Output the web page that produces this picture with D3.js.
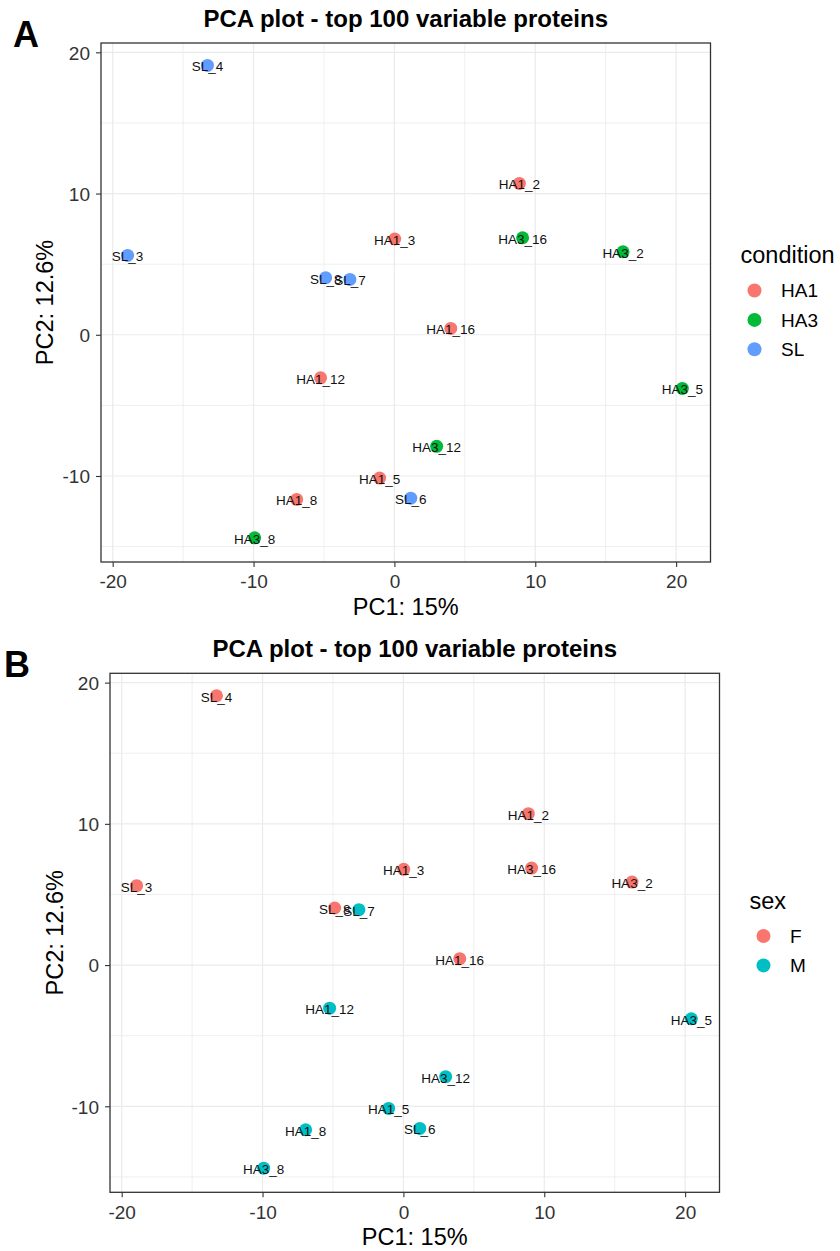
<!DOCTYPE html>
<html>
<head>
<meta charset="utf-8">
<script src="https://cdn.jsdelivr.net/npm/d3@7"></script>
<style>
  body { margin: 0; background: #fff; }
  svg { display: block; font-family: 'Liberation Sans', Arial, sans-serif; }
</style>
</head>
<body>
<svg id="chart" width="840" height="1251"></svg>
<script>
// PCA scores
var samples = ['SL_4', 'SL_3', 'SL_8', 'SL_7', 'HA1_3', 'HA1_2', 'HA3_16', 'HA3_2', 'HA1_16',
  'HA3_5', 'HA3_12', 'SL_6', 'HA1_12', 'HA1_5', 'HA1_8', 'HA3_8'];
var pc1 = [-13.27, -18.94, -4.88, -3.16, 0.02, 8.87, 9.1, 16.23, 4.0,
  20.44, 3.0, 1.16, -5.24, -1.05, -6.94, -9.92];
var pc2 = [19.07, 5.62, 4.04, 3.92, 6.78, 10.72, 6.87, 5.88, 0.45,
  -3.8, -7.9, -11.57, -3.05, -10.15, -11.66, -14.38];
var condition = ['SL', 'SL', 'SL', 'SL', 'HA1', 'HA1', 'HA3', 'HA3', 'HA1',
  'HA3', 'HA3', 'SL', 'HA1', 'HA1', 'HA1', 'HA3'];
var sex = ['F', 'F', 'F', 'M', 'F', 'F', 'F', 'F', 'F',
  'M', 'M', 'M', 'M', 'M', 'M', 'M'];

var conditionLevels = ['HA1', 'HA3', 'SL'];
var sexLevels = ['F', 'M'];
var xTicks = [-20, -10, 0, 10, 20];
var yTicks = [-10, 0, 10, 20];
var xMinor = [-15, -5, 5, 15];
var yMinor = [-15, -5, 5, 15];

var title = 'PCA plot - top 100 variable proteins';
var xLabel = 'PC1: 15%';
var yLabel = 'PC2: 12.6%';

var svg = d3.select('#chart');

var pw = 609.5;
var ph = 519;

var x = d3.scaleLinear().domain([-20.83, 22.44]).range([0, pw]);
var y = d3.scaleLinear().domain([-16.09, 20.66]).range([ph, 0]);

var data = samples.map(function(s, i) {
  return { name: s, pc1: pc1[i], pc2: pc2[i], condition: condition[i], sex: sex[i] };
});

// ggplot prints a plain hyphen, not the unicode minus
var fmt = function(d) { return String(d); };

function drawPanel(opt) {
  var g = svg.append('g').attr('transform', 'translate(' + opt.left + ',' + opt.top + ')');

  // panel letter
  svg.append('text')
    .attr('x', opt.letterX).attr('y', opt.letterY)
    .style('font-size', '36px').style('font-weight', 'bold')
    .text(opt.letter);

  // grid
  g.selectAll('.vmin').data(xMinor).enter().append('line')
    .attr('x1', x).attr('x2', x).attr('y1', 0).attr('y2', ph)
    .style('stroke', '#ebebeb').style('stroke-width', 0.8);
  g.selectAll('.hmin').data(yMinor).enter().append('line')
    .attr('y1', y).attr('y2', y).attr('x1', 0).attr('x2', pw)
    .style('stroke', '#ebebeb').style('stroke-width', 0.8);
  g.selectAll('.vmaj').data(xTicks).enter().append('line')
    .attr('x1', x).attr('x2', x).attr('y1', 0).attr('y2', ph)
    .style('stroke', '#ebebeb').style('stroke-width', 1.2);
  g.selectAll('.hmaj').data(yTicks).enter().append('line')
    .attr('y1', y).attr('y2', y).attr('x1', 0).attr('x2', pw)
    .style('stroke', '#ebebeb').style('stroke-width', 1.2);

  // axes
  var xa = g.append('g').attr('transform', 'translate(0,' + ph + ')')
    .call(d3.axisBottom(x).tickValues(xTicks).tickFormat(fmt).tickSize(5).tickPadding(8));
  var ya = g.append('g')
    .call(d3.axisLeft(y).tickValues(yTicks).tickFormat(fmt).tickSize(5).tickPadding(6));
  [xa, ya].forEach(function(a) {
    a.select('.domain').remove();
    a.selectAll('line').style('stroke', '#333').style('stroke-width', 1.1);
    a.selectAll('text').style('font-size', '19px').style('fill', '#333')
      .style('font-family', "'Liberation Sans', Arial, sans-serif");
  });
  ya.selectAll('text').attr('dy', '0.36em');

  // points then labels
  g.selectAll('.pt').data(data).enter().append('circle')
    .attr('cx', function(d) { return x(d.pc1); })
    .attr('cy', function(d) { return y(d.pc2); })
    .attr('r', 6.5)
    .style('fill', function(d) { return opt.colour(d[opt.field]); });

  g.selectAll('.lab').data(data).enter().append('text')
    .attr('x', function(d) { return x(d.pc1); })
    .attr('y', function(d) { return y(d.pc2) + 6; })
    .attr('text-anchor', 'middle')
    .style('font-size', '13.5px')
    .style('fill', '#111')
    .text(function(d) { return d.name; });

  // border
  g.append('rect').attr('width', pw).attr('height', ph)
    .style('fill', 'none').style('stroke', '#333').style('stroke-width', 1.3);

  // titles
  g.append('text').attr('x', pw / 2).attr('y', -16)
    .attr('text-anchor', 'middle')
    .style('font-size', '24px').style('font-weight', 'bold')
    .text(title);
  g.append('text').attr('x', pw / 2).attr('y', ph + 53)
    .attr('text-anchor', 'middle')
    .style('font-size', '23.5px')
    .text(xLabel);
  g.append('text')
    .attr('transform', 'translate(' + opt.yTitleX + ',' + ph / 2 + ') rotate(-90)')
    .attr('text-anchor', 'middle')
    .style('font-size', '23.5px')
    .text(yLabel);

  // legend
  var lg = svg.append('g').attr('transform', 'translate(' + opt.legX + ',' + opt.legY + ')');
  lg.append('text').attr('x', 0).attr('y', 0)
    .style('font-size', '23.5px')
    .text(opt.field);
  var items = lg.selectAll('.item').data(opt.levels).enter().append('g')
    .attr('transform', function(d, i) { return 'translate(0,' + (27.5 + i * 29.4) + ')'; });
  items.append('circle').attr('cx', 14).attr('cy', 0).attr('r', 7)
    .style('fill', function(d) { return opt.colour(d); });
  items.append('text').attr('x', 40.5).attr('y', 0).attr('dy', '0.36em')
    .style('font-size', '19px')
    .text(function(d) { return d; });
}

var conditionColour = d3.scaleOrdinal().domain(conditionLevels).range(['#F8766D', '#00BA38', '#619CFF']);
var sexColour = d3.scaleOrdinal().domain(sexLevels).range(['#F8766D', '#00BFC4']);

drawPanel({
  left: 101, top: 43, letter: 'A', letterX: 13, letterY: 47,
  field: 'condition', levels: conditionLevels, colour: conditionColour,
  yTitleX: -48, legX: 740.5, legY: 263
});

drawPanel({
  left: 110, top: 673.3, letter: 'B', letterX: 4, letterY: 677,
  field: 'sex', levels: sexLevels, colour: sexColour,
  yTitleX: -47, legX: 749.5, legY: 908.5
});
</script>
</body>
</html>
